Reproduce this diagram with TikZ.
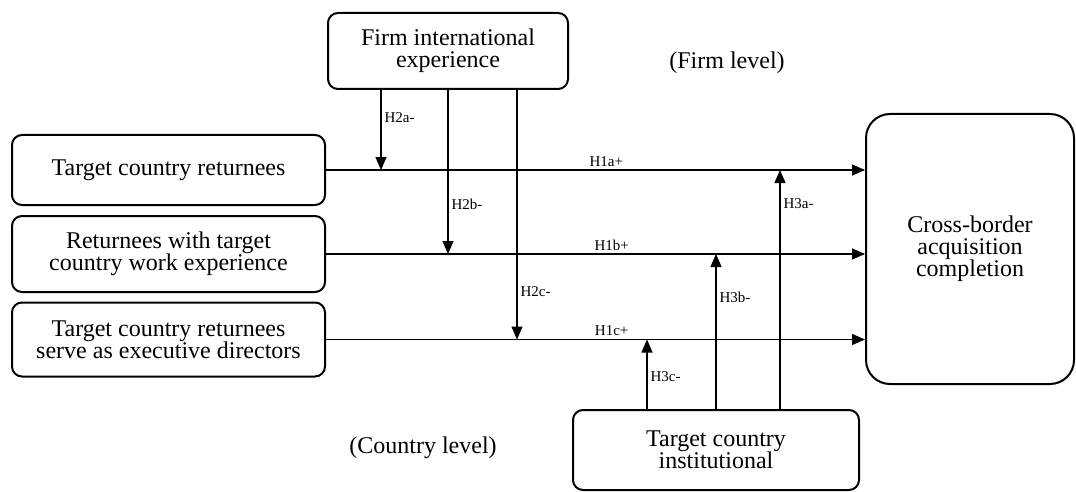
\documentclass[tikz,border=0pt]{standalone}
\usepackage{fontspec}
\setmainfont{Liberation Serif}
\usetikzlibrary{arrows.meta}

\tikzset{
  box/.style={draw, line width=1pt, rounded corners=5pt, align=center,
    font=\fontsize{12}{11}\selectfont, inner sep=0pt},
  hyp/.style={-{Triangle[length=6.5pt,width=5.5pt]}, line width=0.6pt},
  lab/.style={font=\fontsize{7.5}{9}\selectfont, inner sep=1.5pt},
  level/.style={font=\fontsize{12}{14}\selectfont}
}

\begin{document}
\begin{tikzpicture}[x=0.5pt, y=-0.5pt]
\useasboundingbox (0,0) rectangle (1076,492);

% Define the boxes
\node[box, minimum width=120pt, minimum height=38pt] (firm) at (448,51) {Firm international\\experience};
\node[box, minimum width=156.5pt, minimum height=35pt] (ret) at (168.5,170) {Target country returnees};
\node[box, minimum width=156.5pt, minimum height=38pt] (work) at (168.5,254) {Returnees with target\\country work experience};
\node[box, minimum width=156.5pt, minimum height=37pt] (exec) at (168.5,339.5) {Target country returnees\\serve as executive directors};
\node[box, minimum width=104pt, minimum height=135pt, rounded corners=12pt] (cba) at (970,249) {Cross-border\\acquisition\\completion};
\node[box, minimum width=143pt, minimum height=40pt] (inst) at (716,450) {Target country\\institutional};

% Level labels
\node[level] (firmlvl) at (727,63) {(Firm level)};
\node[level] (ctrylvl) at (423,448) {(Country level)};

% Points where the moderators meet the main paths
\coordinate (m2a) at (381,170);
\coordinate (m2b) at (448,254);
\coordinate (m2c) at (517,339.5);
\coordinate (m3a) at (780,170);
\coordinate (m3b) at (716,254);
\coordinate (m3c) at (647,339.5);

% Draw the main effects
\draw[hyp] (ret.east) -- (ret.east -| cba.west) node[lab, pos=0.52, above] {H1a+};
\draw[hyp] (work.east) -- (work.east -| cba.west) node[lab, pos=0.53, above] {H1b+};
\draw[hyp] (exec.east) -- (exec.east -| cba.west) node[lab, pos=0.53, above] {H1c+};

% Draw the firm level moderators
\draw[hyp] (firm.south -| m2a) -- (m2a) node[lab, pos=0.34, right] {H2a-};
\draw[hyp] (firm.south -| m2b) -- (m2b) node[lab, pos=0.70, right] {H2b-};
\draw[hyp] (firm.south -| m2c) -- (m2c) node[lab, pos=0.81, right] {H2c-};

% Draw the country level moderators
\draw[hyp] (inst.north -| m3a) -- (m3a) node[lab, pos=0.86, right] {H3a-};
\draw[hyp] (inst.north -| m3b) -- (m3b) node[lab, pos=0.72, right] {H3b-};
\draw[hyp] (inst.north -| m3c) -- (m3c) node[lab, pos=0.47, right] {H3c-};

\end{tikzpicture}
\end{document}
